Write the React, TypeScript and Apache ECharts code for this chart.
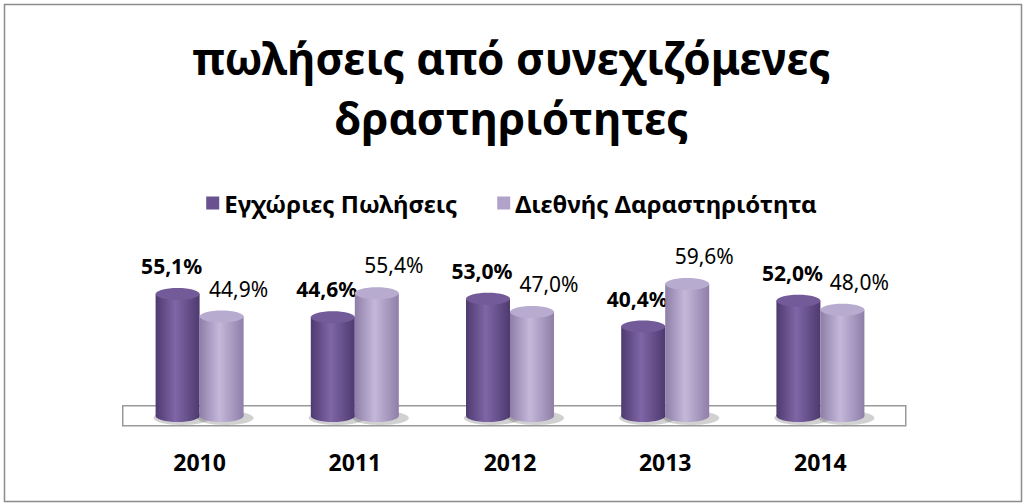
import React, { useEffect, useRef } from 'react';
import * as echarts from 'echarts';

const years = ['2010', '2011', '2012', '2013', '2014'];
const seriesNames = ['Εγχώριες Πωλήσεις', 'Διεθνής Δαραστηριότητα'];
const domestic = [55.1, 44.6, 53.0, 40.4, 52.0];
const international = [44.9, 55.4, 47.0, 59.6, 48.0];

const FONT = '"Noto Sans", "DejaVu Sans", sans-serif';
const BAR_W = 44;
const RY = 6;

const fmt = (v: number) => v.toFixed(1).replace('.', ',') + '%';

const sideGradient = (edge: string, mid: string) =>
  new echarts.graphic.LinearGradient(0, 0, 1, 0, [
    { offset: 0, color: edge },
    { offset: 0.45, color: mid },
    { offset: 1, color: edge },
  ]);

const makeCylinder = (offset: number, edge: string, mid: string, cap: string, bold: boolean, labelDx: number) =>
  (params: any, api: any) => {
    const idx = api.value(0);
    const v = api.value(1);
    const top = api.coord([idx, v]);
    const base = api.coord([idx, 0]);
    const cx = top[0] + offset;
    return {
      type: 'group',
      children: [
        {
          type: 'ellipse',
          shape: { cx: cx + 4, cy: base[1] + 2, rx: BAR_W / 2 + 6, ry: RY + 1 },
          style: { fill: 'rgba(0,0,0,0.18)' },
        },
        {
          type: 'rect',
          shape: { x: cx - BAR_W / 2, y: top[1], width: BAR_W, height: base[1] - top[1] },
          style: { fill: sideGradient(edge, mid) },
        },
        {
          type: 'ellipse',
          shape: { cx, cy: base[1], rx: BAR_W / 2, ry: RY },
          style: { fill: sideGradient(edge, mid) },
        },
        {
          type: 'ellipse',
          shape: { cx, cy: top[1], rx: BAR_W / 2, ry: RY },
          style: { fill: cap },
        },
        {
          type: 'text',
          x: cx + labelDx,
          y: top[1] - RY - 22,
          style: {
            text: fmt(v),
            fontFamily: FONT,
            fontSize: 21,
            fontWeight: bold ? 'bold' : 'normal',
            fill: '#000',
            align: 'center',
            verticalAlign: 'middle',
          },
        },
      ],
    };
  };

const App: React.FC = () => {
  const chartRef = useRef<HTMLDivElement>(null);

  useEffect(() => {
    document.body.style.margin = '0';
    if (!chartRef.current) return;
    const chart = echarts.init(chartRef.current, null, { renderer: 'svg' });

    const option: any = {
      animation: false,
      backgroundColor: '#fff',
      title: {
        text: 'πωλήσεις από συνεχιζόμενες\nδραστηριότητες',
        left: 'center',
        top: 23,
        textStyle: {
          fontFamily: FONT,
          fontSize: 44,
          fontWeight: 'bold',
          color: '#000',
          lineHeight: 60,
        },
      },
      legend: {
        top: 186,
        left: 'center',
        itemGap: 40,
        itemWidth: 13,
        itemHeight: 13,
        icon: 'rect',
        textStyle: { fontFamily: FONT, fontSize: 24, fontWeight: 'bold', color: '#000' },
        data: seriesNames,
      },
      grid: { left: 122, right: 125, top: 261, bottom: 88 },
      xAxis: {
        type: 'category',
        data: years,
        axisLine: { show: false },
        axisTick: { show: false },
        axisLabel: { margin: 34, fontFamily: FONT, fontSize: 23, fontWeight: 'bold', color: '#000' },
      },
      yAxis: { type: 'value', min: 0, max: 70, show: false, splitLine: { show: false } },
      graphic: [
        {
          type: 'rect',
          left: 2,
          top: 2,
          shape: { width: 1017, height: 497 },
          style: { fill: 'none', stroke: '#8c8c8c', lineWidth: 1.5 },
          z: -1,
        },
        {
          type: 'rect',
          left: 122,
          top: 405,
          shape: { width: 783, height: 20 },
          style: { fill: '#fff', stroke: '#9a9a9a', lineWidth: 1.5 },
          z: -1,
        },
      ],
      series: [
        {
          name: seriesNames[0],
          type: 'custom',
          itemStyle: { color: '#6a5290' },
          renderItem: makeCylinder(-22, '#4e3a70', '#7f66a6', '#735a99', true, -6),
          data: domestic.map((v, i) => [i, v]),
          encode: { x: 0, y: 1 },
          z: 2,
        },
        {
          name: seriesNames[1],
          type: 'custom',
          itemStyle: { color: '#b0a2c8' },
          renderItem: makeCylinder(22, '#8e7ea8', '#c4b8da', '#b8abd0', false, 17),
          data: international.map((v, i) => [i, v]),
          encode: { x: 0, y: 1 },
          z: 2,
        },
      ],
    };

    chart.setOption(option);
    return () => chart.dispose();
  }, []);

  return <div ref={chartRef} style={{ width: 1023, height: 504 }} />;
};

export default App;
